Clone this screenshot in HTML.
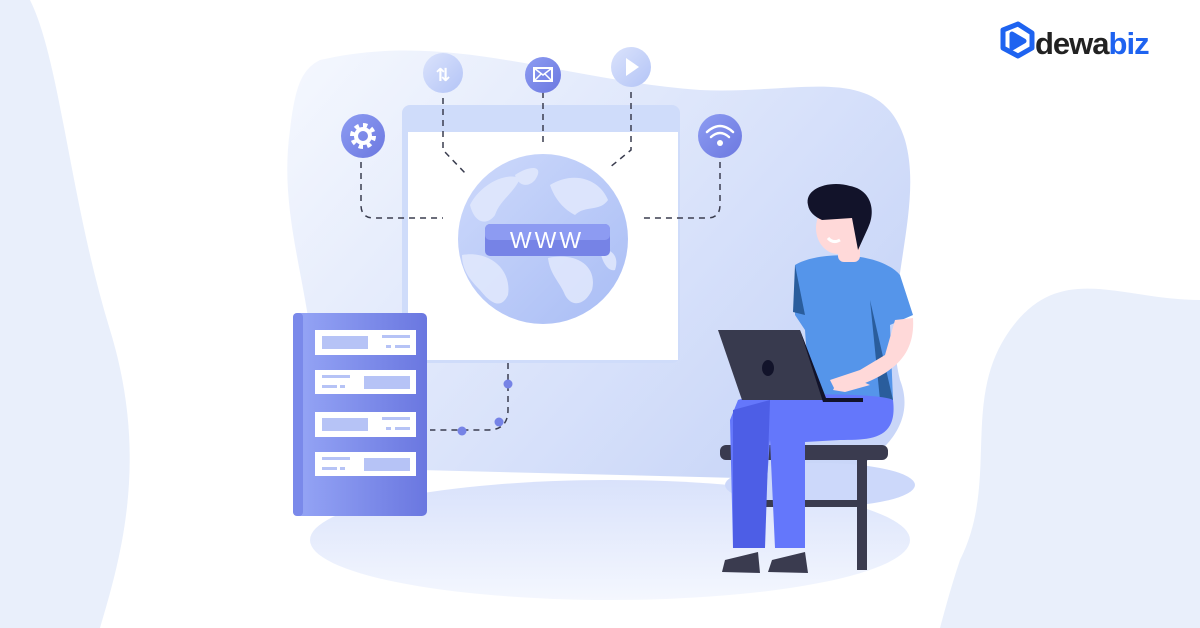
<!DOCTYPE html>
<html><head><meta charset="utf-8"><style>
html,body{margin:0;padding:0;background:#fff;width:1200px;height:628px;overflow:hidden}
svg{display:block}
</style></head><body>
<svg width="1200" height="628" viewBox="0 0 1200 628" xmlns="http://www.w3.org/2000/svg">
<defs>
<linearGradient id="bg" x1="0" y1="0" x2="1" y2="0.6">
<stop offset="0" stop-color="#f5f8fe"/><stop offset="1" stop-color="#c9d6f8"/></linearGradient>
<linearGradient id="srv" x1="0" y1="0" x2="1" y2="0">
<stop offset="0" stop-color="#96a6f6"/><stop offset="1" stop-color="#6a77e0"/></linearGradient>
<linearGradient id="ic" x1="0" y1="0" x2="1" y2="1">
<stop offset="0" stop-color="#8d9cf2"/><stop offset="1" stop-color="#6c78e0"/></linearGradient>
<linearGradient id="icl" x1="0" y1="0" x2="1" y2="1">
<stop offset="0" stop-color="#dbe3fc"/><stop offset="1" stop-color="#b3c4f6"/></linearGradient>
<linearGradient id="glb" x1="0" y1="0" x2="1" y2="1">
<stop offset="0" stop-color="#cdd9fb"/><stop offset="1" stop-color="#a9bdf5"/></linearGradient>
<linearGradient id="floor" x1="0" y1="0" x2="0" y2="1">
<stop offset="0" stop-color="#d9e2fb"/><stop offset="1" stop-color="#f4f7fe"/></linearGradient>
</defs>
<path d="M0 0 H30 C60 60 70 200 110 330 C150 460 120 560 100 628 H0Z" fill="#e9effb"/>
<path d="M1200 300 C1120 300 1060 260 1010 330 C960 400 1000 480 960 560 C950 590 945 610 940 628 H1200Z" fill="#e9effb"/>
<ellipse cx="610" cy="540" rx="300" ry="60" fill="url(#floor)"/>
<path d="M320 60 C450 30 560 80 700 90 C800 95 880 60 905 140 C925 210 880 300 900 380 C920 430 870 470 820 480 L420 470 C340 460 320 400 310 330 C300 260 280 200 290 130 C295 90 300 70 320 60Z" fill="url(#bg)"/>
<ellipse cx="820" cy="485" rx="95" ry="22" fill="#ccd8fa"/>
<!-- browser -->
<rect x="402" y="105" width="278" height="258" rx="8" fill="#cfdcfa"/>
<rect x="408" y="132" width="270" height="228" fill="#fff"/>
<!-- globe -->
<circle cx="543" cy="239" r="85" fill="url(#glb)"/>
<g fill="#e2e9fd" opacity=".85">
<path d="M470 205 C480 185 505 172 520 178 C515 192 500 200 495 215 C488 225 475 225 470 205Z"/>
<path d="M515 175 C530 165 545 165 535 180 C528 188 518 186 515 175Z"/>
<path d="M550 185 C575 170 600 180 608 200 C600 212 585 205 575 215 C565 210 555 200 550 185Z"/>
<path d="M548 258 C575 252 598 265 592 290 C585 305 572 308 565 295 C560 282 550 275 548 258Z"/>
<path d="M462 255 C490 250 512 270 508 295 C500 312 488 300 480 290 C470 280 462 270 462 255Z"/>
<path d="M600 250 C610 248 620 255 615 270 C608 272 602 262 600 250Z"/>
</g>
<rect x="485" y="224" width="125" height="32" rx="5" fill="#7683e6"/>
<rect x="485" y="224" width="125" height="16" rx="5" fill="#8d9bf2"/>
<text x="547" y="248" text-anchor="middle" font-family="Liberation Sans,sans-serif" font-size="23" fill="#fff" letter-spacing="3">WWW</text>
<!-- dashed connectors -->
<g fill="none" stroke="#3a3d4f" stroke-width="1.5" stroke-dasharray="6 5">
<path d="M361 162 V205 Q361 218 374 218 H443"/>
<path d="M443 98 V150 L465 173"/>
<path d="M543 92 V142"/>
<path d="M631 92 V150 L609 168"/>
<path d="M720 162 V205 Q720 218 707 218 H640"/>
<path d="M508 363 V410 Q508 430 488 430 H430"/>
</g>
<circle cx="508" cy="384" r="4.5" fill="#7683e6"/>
<circle cx="499" cy="422" r="4.5" fill="#7683e6"/>
<circle cx="462" cy="431" r="4.5" fill="#7683e6"/>
<!-- icons -->
<circle cx="363" cy="136" r="22" fill="url(#ic)"/>
<circle cx="363" cy="136" r="10" fill="none" stroke="#fff" stroke-width="6" stroke-dasharray="4 3.8"/>
<circle cx="363" cy="136" r="7" fill="none" stroke="#fff" stroke-width="4"/>
<circle cx="443" cy="73" r="20" fill="url(#icl)"/>
<text x="443" y="81" text-anchor="middle" font-family="DejaVu Sans,sans-serif" font-size="18" font-weight="bold" fill="#fff">⇅</text>
<circle cx="543" cy="75" r="18" fill="url(#ic)"/>
<rect x="534" y="68" width="18" height="13" fill="none" stroke="#fff" stroke-width="2"/>
<path d="M534 68 L543 75 L552 68 M534 81 L541 74 M552 81 L545 74" stroke="#fff" stroke-width="1.5" fill="none"/>
<circle cx="631" cy="67" r="20" fill="url(#icl)"/>
<path d="M626 58 L639 67 L626 76Z" fill="#fff"/>
<circle cx="720" cy="136" r="22" fill="url(#ic)"/>
<g fill="none" stroke="#fff" stroke-width="2.5" stroke-linecap="round">
<path d="M707 132 Q720 120 733 132"/><path d="M711 137 Q720 129 729 137"/></g>
<circle cx="720" cy="143" r="3" fill="#fff"/>
<!-- server -->
<rect x="293" y="313" width="134" height="203" rx="5" fill="url(#srv)"/>
<rect x="293" y="313" width="10" height="203" rx="4" fill="#7a89ea"/>
<g fill="#fff">
<rect x="315" y="330" width="101" height="25"/><rect x="315" y="370" width="101" height="24"/>
<rect x="315" y="412" width="101" height="25"/><rect x="315" y="452" width="101" height="24"/></g>
<g fill="#b6c3f6">
<rect x="322" y="336" width="46" height="13"/><rect x="364" y="376" width="46" height="13"/>
<rect x="322" y="418" width="46" height="13"/><rect x="364" y="458" width="46" height="13"/>
<rect x="382" y="335" width="28" height="3"/><rect x="395" y="345" width="15" height="3"/><rect x="386" y="345" width="5" height="3"/>
<rect x="322" y="375" width="28" height="3"/><rect x="322" y="385" width="15" height="3"/><rect x="340" y="385" width="5" height="3"/>
<rect x="382" y="417" width="28" height="3"/><rect x="395" y="427" width="15" height="3"/><rect x="386" y="427" width="5" height="3"/>
<rect x="322" y="457" width="28" height="3"/><rect x="322" y="467" width="15" height="3"/><rect x="340" y="467" width="5" height="3"/>
</g>
<!-- stool -->
<rect x="720" y="445" width="168" height="15" rx="6" fill="#3a3b4f"/>
<rect x="857" y="455" width="10" height="115" fill="#3a3b4f"/>
<rect x="762" y="500" width="100" height="7" fill="#3a3b4f"/>
<!-- person -->
<path d="M795 265 C820 250 880 252 900 275 L913 315 L890 325 L893 400 L810 400 L805 330 L795 315Z" fill="#5595ea"/>
<path d="M795 265 L793 312 L805 315Z" fill="#2a5d9c"/>
<path d="M870 300 L893 400 L880 400Z" fill="#2a5d9c"/>
<path d="M895 320 L913 318 C915 350 900 370 860 385 L835 390 L830 380 L860 370 L885 355Z" fill="#ffd9d9"/>
<rect x="838" y="232" width="22" height="30" rx="6" fill="#ffd9d9"/>
<ellipse cx="838" cy="228" rx="22" ry="26" fill="#ffd9d9"/>
<path d="M808 205 C804 188 830 180 850 186 C872 190 876 212 868 228 L858 250 L852 218 L822 220 C815 217 809 212 808 205Z" fill="#12132a"/>
<path d="M828 238 Q833 244 840 240" stroke="#fff" stroke-width="3" fill="none"/>
<path d="M738 400 C760 393 880 392 893 400 C898 440 870 440 840 440 L805 442 L805 548 L775 548 L770 440 L762 548 L733 548 L730 420Z" fill="#6477fb"/>
<path d="M733 410 L770 400 L765 548 L733 548Z" fill="#4d5ee6"/>
<path d="M722 572 L725 560 L758 552 L760 573Z" fill="#3a3b4f"/>
<path d="M768 572 L772 560 L805 552 L808 573Z" fill="#3a3b4f"/>
<path d="M718 330 L800 330 L826 400 L742 400Z" fill="#383a4e"/>
<path d="M800 330 L826 398 L863 398 L863 402 L823 402Z" fill="#12132a"/>
<ellipse cx="768" cy="368" rx="6" ry="8" fill="#12132a"/>
<path d="M833 390 C840 375 860 380 870 385 L845 392Z" fill="#ffd9d9"/>
<!-- logo -->
<g fill="none" stroke="#1e63f0" stroke-width="5" stroke-linejoin="round">
<path d="M1003 30 L1018 24 L1032 33 L1032 48 L1018 56 L1003 48Z"/>
<path d="M1012 34 L1024 41 L1012 48Z" fill="#1e63f0"/></g>
<text x="1035" y="54" font-family="Liberation Sans,sans-serif" font-weight="bold" font-size="31" fill="#222" letter-spacing="-1">dewa<tspan fill="#1e63f0">biz</tspan></text>
</svg>
</body></html>
